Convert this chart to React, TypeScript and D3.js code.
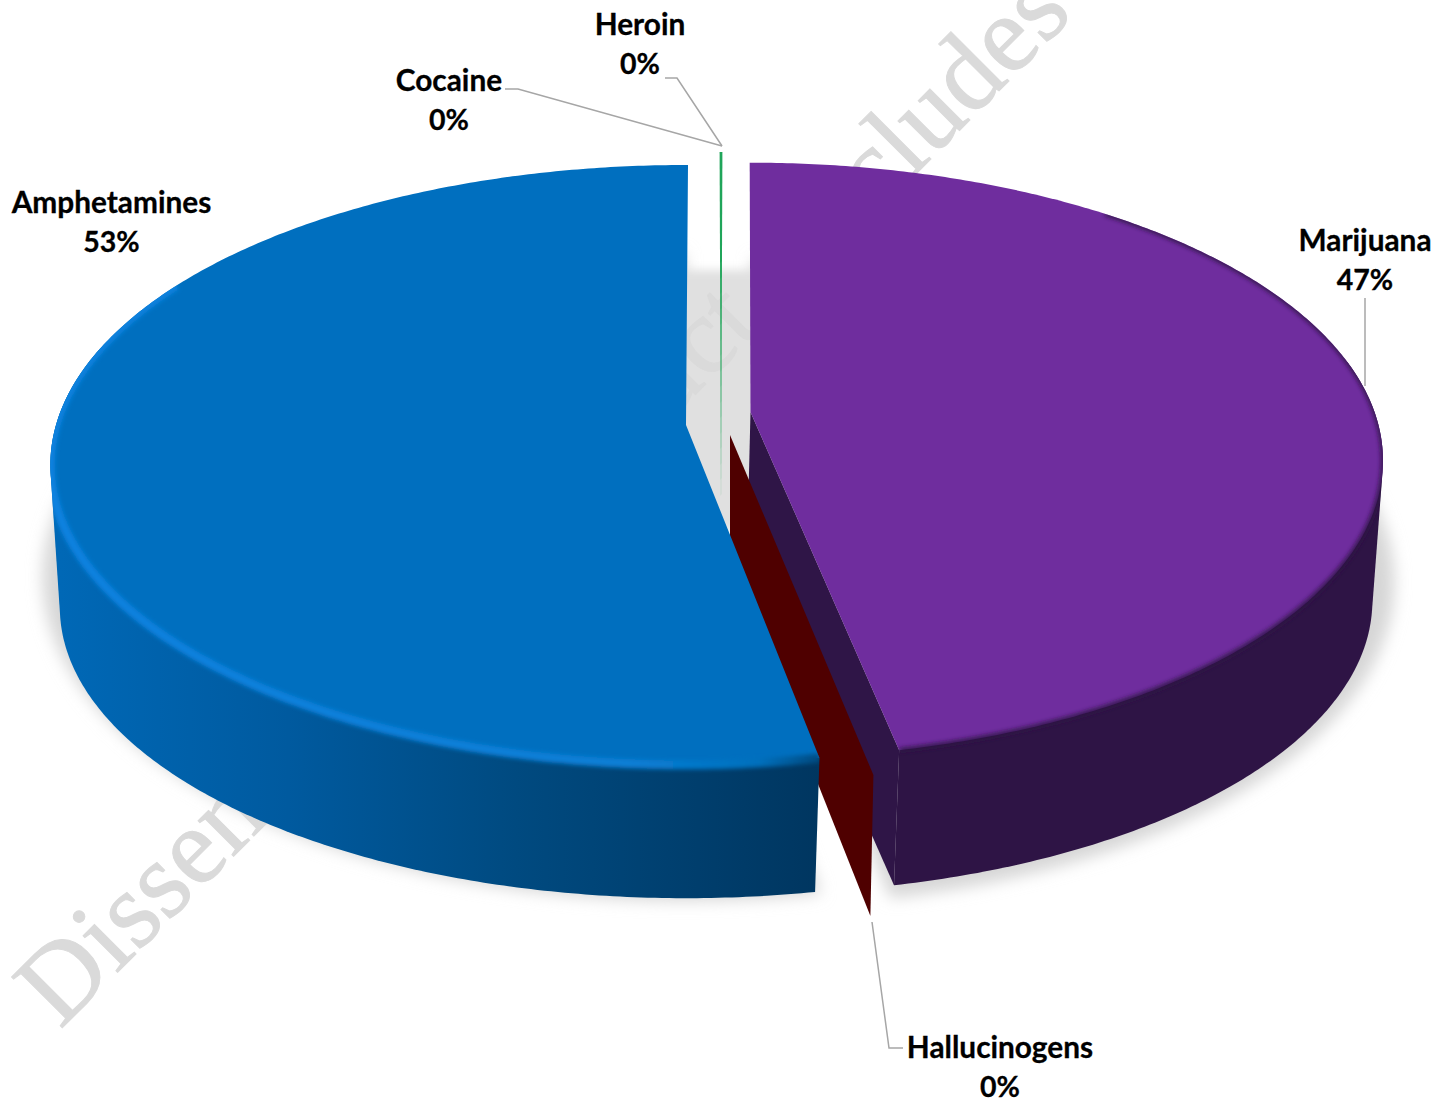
import React from "react";
import * as d3 from "d3";

const W = 1451;
const H = 1099;

// ---- data (clockwise from 12 o'clock) ----
const categories = ["Heroin", "Marijuana", "Hallucinogens", "Amphetamines", "Cocaine"];
const values = [0.04, 46.9, 0.1, 53.1, 0.04];
const percentLabels = ["0%", "47%", "0%", "53%", "0%"];
const topColors = ["#20a55a", "#6f2d9e", "#4f0000", "#006fbf", "#20a55a"];

// ---- label layout ----
const labelX = [640, 1365, 1000, 111.5, 449];
const labelY = [34.5, 250.5, 1057.5, 212.5, 90.5];
const leaders: [number, number][][] = [
  [[665, 78], [677, 78], [722, 146]],
  [[1365, 298], [1365, 386]],
  [[872, 922], [889, 1048], [903, 1048]],
  [],
  [[505, 89], [518, 89], [722, 146]],
];

type Rim = { cx: number; cy: number; R: number; Ry: number; k: number; rot?: number };
// perspective rims of each exploded slice: top face and bottom face
const topRims: Rim[] = [
  { cx: 721, cy: 502, R: 631, Ry: 392, k: 0.12 },
  { cx: 750.5, cy: 412, R: 624, Ry: 290, k: 0.163, rot: -0.23 },
  { cx: 730, cy: 435, R: 617, Ry: 288, k: 0.172 },
  { cx: 686, cy: 425, R: 630, Ry: 294.6, k: 0.133, rot: 0.35 },
  { cx: 721, cy: 502, R: 631, Ry: 392, k: 0.12 },
];
const bottomRims: Rim[] = [
  { cx: 721, cy: 502, R: 631, Ry: 392, k: 0.12 },
  { cx: 747, cy: 553, R: 617, Ry: 285, k: 0.163, rot: -0.23 },
  { cx: 730, cy: 562, R: 604, Ry: 300, k: 0.172 },
  { cx: 686, cy: 574, R: 622, Ry: 287, k: 0.1147, rot: 0.35 },
  { cx: 721, cy: 502, R: 631, Ry: 392, k: 0.12 },
];
const shadowRims: (Rim | null)[] = [
  null,
  { cx: 751, cy: 550, R: 640, Ry: 320, k: 0.1 },
  null,
  { cx: 686, cy: 545, R: 640, Ry: 320, k: 0.1 },
  null,
];

const pie = d3.pie<number>().sort(null).startAngle(0).endAngle(2 * Math.PI);
const arcs = pie(values);

function project(g: Rim, theta: number, r = 1): [number, number] {
  const t = theta + ((g.rot ?? 0) * Math.PI) / 180;
  const u = r * Math.sin(t);
  const v = -r * Math.cos(t);
  const w = 1 - g.k * v;
  return [g.cx + (g.R * u) / w, g.cy + (g.Ry * v) / w];
}
function rim(g: Rim, a0: number, a1: number): [number, number][] {
  const n = Math.max(2, Math.ceil(Math.abs(a1 - a0) / 0.01));
  const t = d3.scaleLinear().domain([0, n]).range([a0, a1]);
  return d3.range(n + 1).map((i) => project(g, t(i)));
}
const line = d3.line();
const wedgePath = (g: Rim, a0: number, a1: number) =>
  line([[g.cx, g.cy], ...rim(g, a0, a1)]) + "Z";
// visible outer wall: convex hull of the two rims over the front-facing angles
const sidePath = (a: Rim, b: Rim, a0: number, a1: number) =>
  line(d3.polygonHull([...rim(a, a0, a1), ...rim(b, a0, a1)])!) + "Z";
const cutPath = (a: Rim, b: Rim, ang: number) =>
  line([[a.cx, a.cy], project(a, ang), project(b, ang), [b.cx, b.cy]]) + "Z";

const rad = (d: number) => (d * Math.PI) / 180;
const font = "Lato, 'Open Sans', sans-serif";

export default function App() {
  const [hero, mari, hallu, amph, coca] = arcs;
  const mT = topRims[1], mB = bottomRims[1];
  const hT = topRims[2], hB = bottomRims[2];
  const aT = topRims[3], aB = bottomRims[3];
  const aFront = rad(285);
  const mFront = rad(80);
  return (
    <svg
      width={W}
      height={H}
      viewBox={`0 0 ${W} ${H}`}
      style={{ position: "absolute", left: 0, top: 0, display: "block", background: "#fff" }}
    >
      <defs>
        <filter id="sh" x="-10%" y="-10%" width="120%" height="120%">
          <feGaussianBlur stdDeviation="8" />
        </filter>
        <filter id="gapBlur" x="-30%" y="-30%" width="160%" height="160%">
          <feGaussianBlur stdDeviation="5" />
        </filter>
        <filter id="bev" x="-10%" y="-10%" width="120%" height="120%">
          <feGaussianBlur stdDeviation="2" />
        </filter>
        <linearGradient id="blueSide" gradientUnits="userSpaceOnUse" x1="60" x2="820" y1="0" y2="0">
          <stop offset="0" stopColor="#0068b6" />
          <stop offset="0.3" stopColor="#005a9f" />
          <stop offset="0.6" stopColor="#004a80" />
          <stop offset="1" stopColor="#003660" />
        </linearGradient>
        <linearGradient id="blueBevel" gradientUnits="userSpaceOnUse" x1="50" x2="820" y1="0" y2="0">
          <stop offset="0" stopColor="#0a82e0" />
          <stop offset="0.75" stopColor="#0a7fd6" />
          <stop offset="0.92" stopColor="#0070bd" />
          <stop offset="1" stopColor="#004a80" />
        </linearGradient>
        <clipPath id="blueClip">
          <path d={wedgePath(aT, amph.startAngle, amph.endAngle)} />
          <path d={sidePath(aT, aB, amph.startAngle, aFront)} />
        </clipPath>
        <clipPath id="purpleClip">
          <path d={wedgePath(mT, mari.startAngle, mari.endAngle)} />
          <path d={sidePath(mT, mB, mFront, mari.endAngle)} />
        </clipPath>
      </defs>

      {/* soft shadow on the floor */}
      <g fill="#d6d6d6" filter="url(#sh)">
        <path d={wedgePath(shadowRims[1]!, mari.startAngle, mari.endAngle)} />
        <path d={wedgePath(shadowRims[3]!, amph.startAngle, amph.endAngle)} />
      </g>
      <rect x={676} y={270} width={86} height={260} fill="#e0e0e0" filter="url(#gapBlur)" />

      {/* watermark */}
      <text
        transform="translate(60,1030) rotate(-45)"
        fontFamily="'Liberation Serif', serif"
        fontSize={109.5}
        fill="#dadada"
        stroke="#dadada"
        strokeWidth={1}
      >
        Dissemination product<tspan dx={48}> includes</tspan>
      </text>

      {/* Marijuana */}
      <path d={sidePath(mT, mB, mFront, mari.endAngle)} fill="#2e1445" />
      <path d={cutPath(mT, mB, mari.endAngle)} fill="#2f1547" />
      <path d={wedgePath(mT, mari.startAngle, mari.endAngle)} fill={topColors[1]} />
      <g clipPath="url(#purpleClip)">
        <path
          d={line(rim(mT, rad(40), mari.endAngle))!}
          fill="none"
          stroke="#2e1445"
          strokeWidth={4}
          filter="url(#bev)"
        />
      </g>

      {/* Hallucinogens */}
      <path d={cutPath(hT, hB, (hallu.startAngle + hallu.endAngle) / 2)} fill={topColors[2]} />

      {/* Heroin and Cocaine */}
      <path d={wedgePath(topRims[0], hero.startAngle, hero.endAngle)} fill={topColors[0]} />
      <path d={wedgePath(topRims[4], coca.startAngle, coca.endAngle)} fill={topColors[4]} />

      {/* Amphetamines */}
      <path d={sidePath(aT, aB, amph.startAngle, aFront)} fill="url(#blueSide)" />
      <path d={wedgePath(aT, amph.startAngle, amph.endAngle)} fill={topColors[3]} />
      <g clipPath="url(#blueClip)">
        <path
          d={line(rim(aT, amph.startAngle, rad(300)))!}
          fill="none"
          stroke="url(#blueBevel)"
          strokeWidth={9}
          filter="url(#bev)"
        />
      </g>

      {/* leader lines */}
      <g fill="none" stroke="#a6a6a6" strokeWidth={1.5}>
        {leaders.map((pts, i) => (pts.length ? <path key={i} d={line(pts)!} /> : null))}
      </g>

      {/* labels */}
      <g fontFamily={font} fontWeight={700} fill="#000" stroke="#000" strokeWidth={0.3} textAnchor="middle">
        {categories.map((c, i) => (
          <text key={c} x={labelX[i]} y={labelY[i]} fontSize={29.8}>
            <tspan x={labelX[i]}>{c}</tspan>
            <tspan x={labelX[i]} dy={39} fontSize={28.5}>
              {percentLabels[i]}
            </tspan>
          </text>
        ))}
      </g>
    </svg>
  );
}
